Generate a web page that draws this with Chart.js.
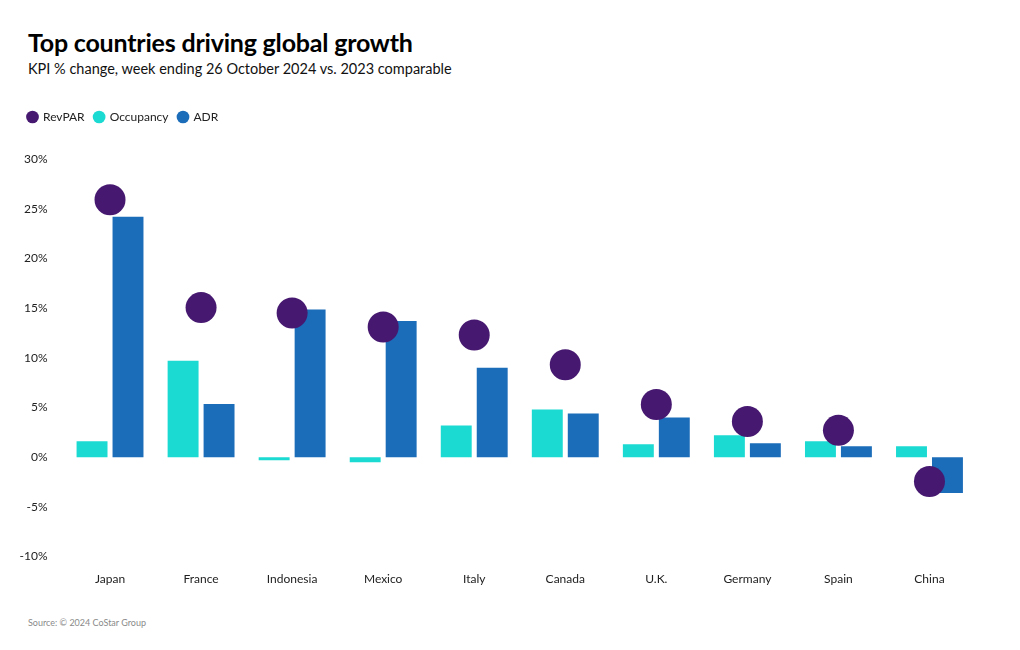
<!DOCTYPE html>
<html>
<head>
<meta charset="utf-8">
<script src="https://cdn.jsdelivr.net/npm/chart.js@4.4.1/dist/chart.umd.min.js"></script>
<style>
  html, body { margin: 0; padding: 0; background: #fff; }
  body { width: 1020px; height: 650px; position: relative; overflow: hidden; font-family: "Lato", "Noto Sans", sans-serif; }
  #title { position: absolute; left: 28px; top: 27px; font-size: 25px; font-weight: 700; color: #000; letter-spacing: -0.2px; }
  #subtitle { position: absolute; left: 28px; top: 60px; font-size: 14.5px; color: #111; }
  #source { position: absolute; left: 28px; top: 617px; font-size: 9px; color: #8a8a8a; }
  #wrap { position: absolute; left: 0; top: 101px; width: 1000px; height: 500px; }
</style>
</head>
<body>
<div id="title">Top countries driving global growth</div>
<div id="subtitle">KPI % change, week ending 26 October 2024 vs. 2023 comparable</div>
<div id="wrap"><canvas id="c"></canvas></div>
<div id="source">Source: © 2024 CoStar Group</div>
<script>
const categories = ["Japan", "France", "Indonesia", "Mexico", "Italy", "Canada", "U.K.", "Germany", "Spain", "China"];
const revpar    = [25.9, 15.05, 14.5, 13.1, 12.3, 9.3, 5.3, 3.6, 2.7, -2.45];
const occupancy = [1.6, 9.7, -0.3, -0.5, 3.2, 4.8, 1.3, 2.2, 1.6, 1.1];
const adr       = [24.2, 5.35, 14.85, 13.7, 9.0, 4.4, 4.0, 1.4, 1.1, -3.6];
const yTicks    = [-10, -5, 0, 5, 10, 15, 20, 25, 30];

const legendSpacer = {
  id: 'legendSpacer',
  beforeInit(chart) {
    const orig = chart.legend.fit;
    chart.legend.fit = function () {
      orig.bind(chart.legend)();
      this.height += 26;
    };
  }
};

new Chart(document.getElementById('c'), {
  type: 'bar',
  data: {
    labels: categories,
    datasets: [
      {
        type: 'line', label: 'RevPAR', data: revpar, order: 0,
        showLine: false, pointRadius: 15.5, pointHoverRadius: 15.5,
        backgroundColor: '#461870', borderColor: '#461870', borderWidth: 0,
        pointStyle: 'circle'
      },
      {
        label: 'Occupancy', data: occupancy, order: 1,
        backgroundColor: '#1bdad2', borderWidth: 0
      },
      {
        label: 'ADR', data: adr, order: 2,
        backgroundColor: '#1b6cb9', borderWidth: 0
      }
    ]
  },
  options: {
    responsive: true,
    maintainAspectRatio: false,
    animation: false,
    datasets: { bar: { categoryPercentage: 0.79, barPercentage: 0.86 } },
    layout: { padding: { left: 18, right: 25, top: 0, bottom: 8 } },
    plugins: {
      legend: {
        position: 'top', align: 'start',
        labels: {
          usePointStyle: true, pointStyle: 'circle', boxWidth: 9, boxHeight: 9,
          padding: 10, color: '#222', font: { family: 'Lato', size: 12 }
        }
      },
      tooltip: { enabled: false }
    },
    scales: {
      x: {
        grid: { display: false }, border: { display: false },
        ticks: { color: '#222', font: { family: 'Lato', size: 12 }, padding: 7, maxRotation: 0 }
      },
      y: {
        min: -10, max: 30,
        grid: { display: false }, border: { display: false },
        afterFit(s) { s.width = 46.5; },
        afterBuildTicks(s) { s.ticks = yTicks.map(v => ({ value: v })); },
        ticks: {
          color: '#222', font: { family: 'Lato', size: 12 }, padding: 9,
          callback: v => v + '%'
        }
      }
    }
  },
  plugins: [legendSpacer]
});
</script>
</body>
</html>
